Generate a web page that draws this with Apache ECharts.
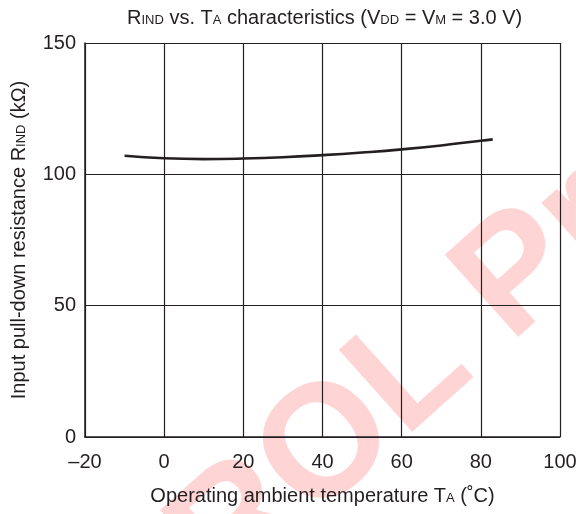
<!DOCTYPE html>
<html>
<head>
<meta charset="utf-8">
<title>RIND vs. TA</title>
<script src="https://cdn.jsdelivr.net/npm/echarts@6/dist/echarts.min.js"></script>
</head>
<body style="margin:0;background:#fff;">
<div id="main" style="width:576px;height:514px;"></div>
<script type="text/javascript">
// temperature (°C) and pull-down resistance (kOhm)
var temps = [-10, 0, 10, 20, 30, 40, 50, 60, 70, 80, 83];
var rind = [107.1, 106.1, 105.8, 106.0, 106.5, 107.3, 108.3, 109.5, 111.0, 112.8, 113.3];
var xTicks = [-20, 0, 20, 40, 60, 80, 100];
var yTicks = [0, 50, 100, 150];

var font = 'Liberation Sans, Arial, sans-serif';
var ink = '#231f20';
var subStyle = { fontFamily: font, fontSize: 13, color: ink, padding: [5, 0, 0, 0] };

var chart = echarts.init(document.getElementById('main'));
chart.setOption({
    backgroundColor: '#ffffff',
    animation: false,
    title: {
        text: 'R{s|IND} vs. T{s|A} characteristics (V{s|DD} = V{s|M} = 3.0 V)',
        left: 122,
        top: 3,
        textStyle: {
            fontFamily: font, fontSize: 20, fontWeight: 'normal', color: ink,
            rich: { s: subStyle }
        }
    },
    // faint watermark behind the grid
    graphic: [{
        type: 'text',
        z: -10,
        x: 365, y: 415,
        rotation: Math.PI / 4.3,
        style: {
            text: 'TROL Pr',
            font: 'bold 160px ' + font,
            fill: '#ffd4d4',
            align: 'center',
            verticalAlign: 'middle'
        }
    }],
    grid: { left: 85, right: 16, top: 43, bottom: 77, outerBoundsMode: 'none' },
    xAxis: {
        type: 'value',
        min: -20, max: 100, interval: 20,
        name: 'Operating ambient temperature T{s|A} (˚C)',
        nameLocation: 'middle',
        nameGap: 49,
        nameTextStyle: {
            fontFamily: font, fontSize: 20, color: ink,
            rich: { s: subStyle }
        },
        axisLine: { show: true, onZero: false, lineStyle: { color: ink, width: 1.5 } },
        axisTick: { show: false },
        axisLabel: {
            fontFamily: font, fontSize: 20, color: ink, margin: 15,
            formatter: function (v) { return xTicks.indexOf(v) >= 0 ? String(v).replace('-', '–') : ''; }
        },
        splitLine: { show: true, lineStyle: { color: ink, width: 1.2 } }
    },
    yAxis: {
        type: 'value',
        min: 0, max: 150, interval: 50,
        name: 'Input pull-down resistance R{s|IND} (kΩ)',
        nameLocation: 'middle',
        nameGap: 56,
        nameTextStyle: {
            fontFamily: font, fontSize: 20, color: ink,
            rich: { s: subStyle }
        },
        axisLine: { show: true, onZero: false, lineStyle: { color: ink, width: 1.5 } },
        axisTick: { show: false },
        axisLabel: {
            fontFamily: font, fontSize: 20, color: ink, margin: 9,
            formatter: function (v) { return yTicks.indexOf(v) >= 0 ? String(v) : ''; }
        },
        splitLine: { show: true, lineStyle: { color: ink, width: 1.2 } }
    },
    series: [{
        type: 'line',
        data: temps.map(function (t, i) { return [t, rind[i]]; }),
        smooth: true,
        showSymbol: false,
        lineStyle: { color: ink, width: 2.6 }
    }]
});
</script>
</body>
</html>
